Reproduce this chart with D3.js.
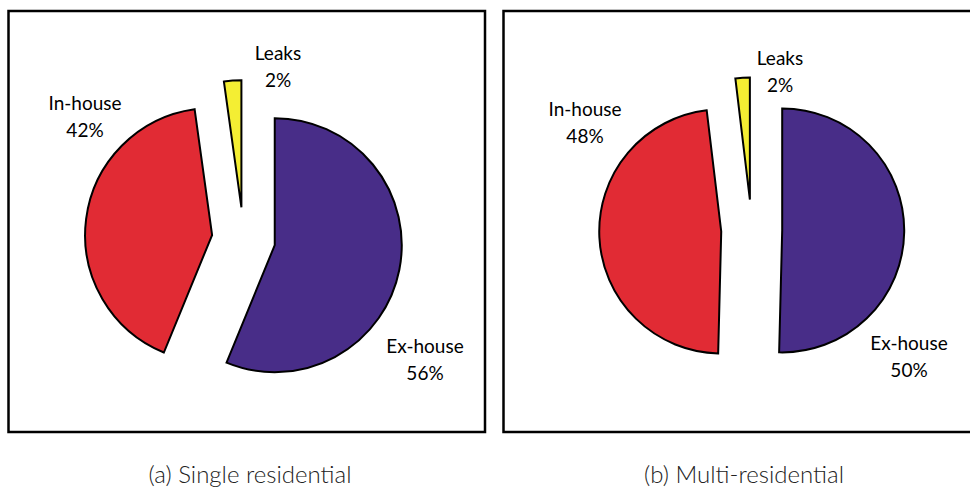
<!DOCTYPE html>
<html>
<head>
<meta charset="utf-8">
<script src="https://cdn.jsdelivr.net/npm/d3@7"></script>
<style>
  html, body { margin: 0; padding: 0; background: #fff; }
  svg { display: block; }
</style>
</head>
<body>
<svg id="chart" width="970" height="491"></svg>
<script>
// ---- data ----
const categories = ["Ex-house", "In-house", "Leaks"];
const singleResidential = [56.2, 41.6, 2.2];
const multiResidential = [50.4, 47.7, 1.9];
const captions = ["(a) Single residential", "(b) Multi-residential"];
const colors = ["#482d88", "#e12b34", "#f4ee33"];

// ---- layout (not data) ----
const panels = [
  { values: singleResidential, caption: captions[0],
    box: [8.5, 11, 476.5, 421], cx: 243.6, cy: 239, r: 127, capX: 250,
    labels: [[425, 353], [85, 110], [278, 60]] },
  { values: multiResidential, caption: captions[1],
    box: [503.5, 11, 480, 421], cx: 751.7, cy: 230, r: 122, capX: 744,
    labels: [[909, 350], [585, 116], [780, 65]] }
];
const explodeFrac = 0.25;

const svg = d3.select("#chart");
const pie = d3.pie().sort(null).value(d => d.v);

panels.forEach(p => {
  const g = svg.append("g");
  g.append("rect")
    .attr("x", p.box[0]).attr("y", p.box[1])
    .attr("width", p.box[2]).attr("height", p.box[3])
    .attr("fill", "none").attr("stroke", "#000").attr("stroke-width", 2.5);

  const arcs = pie(categories.map((c, i) => ({ c, v: p.values[i], i })));
  const arc = d3.arc().innerRadius(0).outerRadius(p.r);
  const off = explodeFrac * p.r;

  const pg = g.append("g").attr("transform", `translate(${p.cx},${p.cy})`);
  pg.selectAll("path").data(arcs).join("path")
    .attr("d", arc)
    .attr("transform", d => {
      const m = (d.startAngle + d.endAngle) / 2;
      return `translate(${off * Math.sin(m)},${-off * Math.cos(m)})`;
    })
    .attr("fill", d => colors[d.data.i])
    .attr("stroke", "#000")
    .attr("stroke-width", 2)
    .attr("stroke-linejoin", "miter");

  arcs.forEach((d, k) => {
    const [lx, ly] = p.labels[k];
    const t = g.append("text")
      .attr("x", lx).attr("y", ly)
      .attr("text-anchor", "middle")
      .attr("font-family", "Lato, 'Open Sans', sans-serif")
      .attr("font-size", 19)
      .attr("fill", "#000");
    t.append("tspan").attr("x", lx).text(d.data.c);
    t.append("tspan").attr("x", lx).attr("dy", 27).text(Math.round(d.data.v) + "%");
  });

  svg.append("text")
    .attr("x", p.capX).attr("y", 483)
    .attr("text-anchor", "middle")
    .attr("font-family", "Lato, sans-serif")
    .attr("font-weight", 300)
    .attr("font-size", 24)
    .attr("fill", "#222")
    .text(p.caption);
});
</script>
</body>
</html>
